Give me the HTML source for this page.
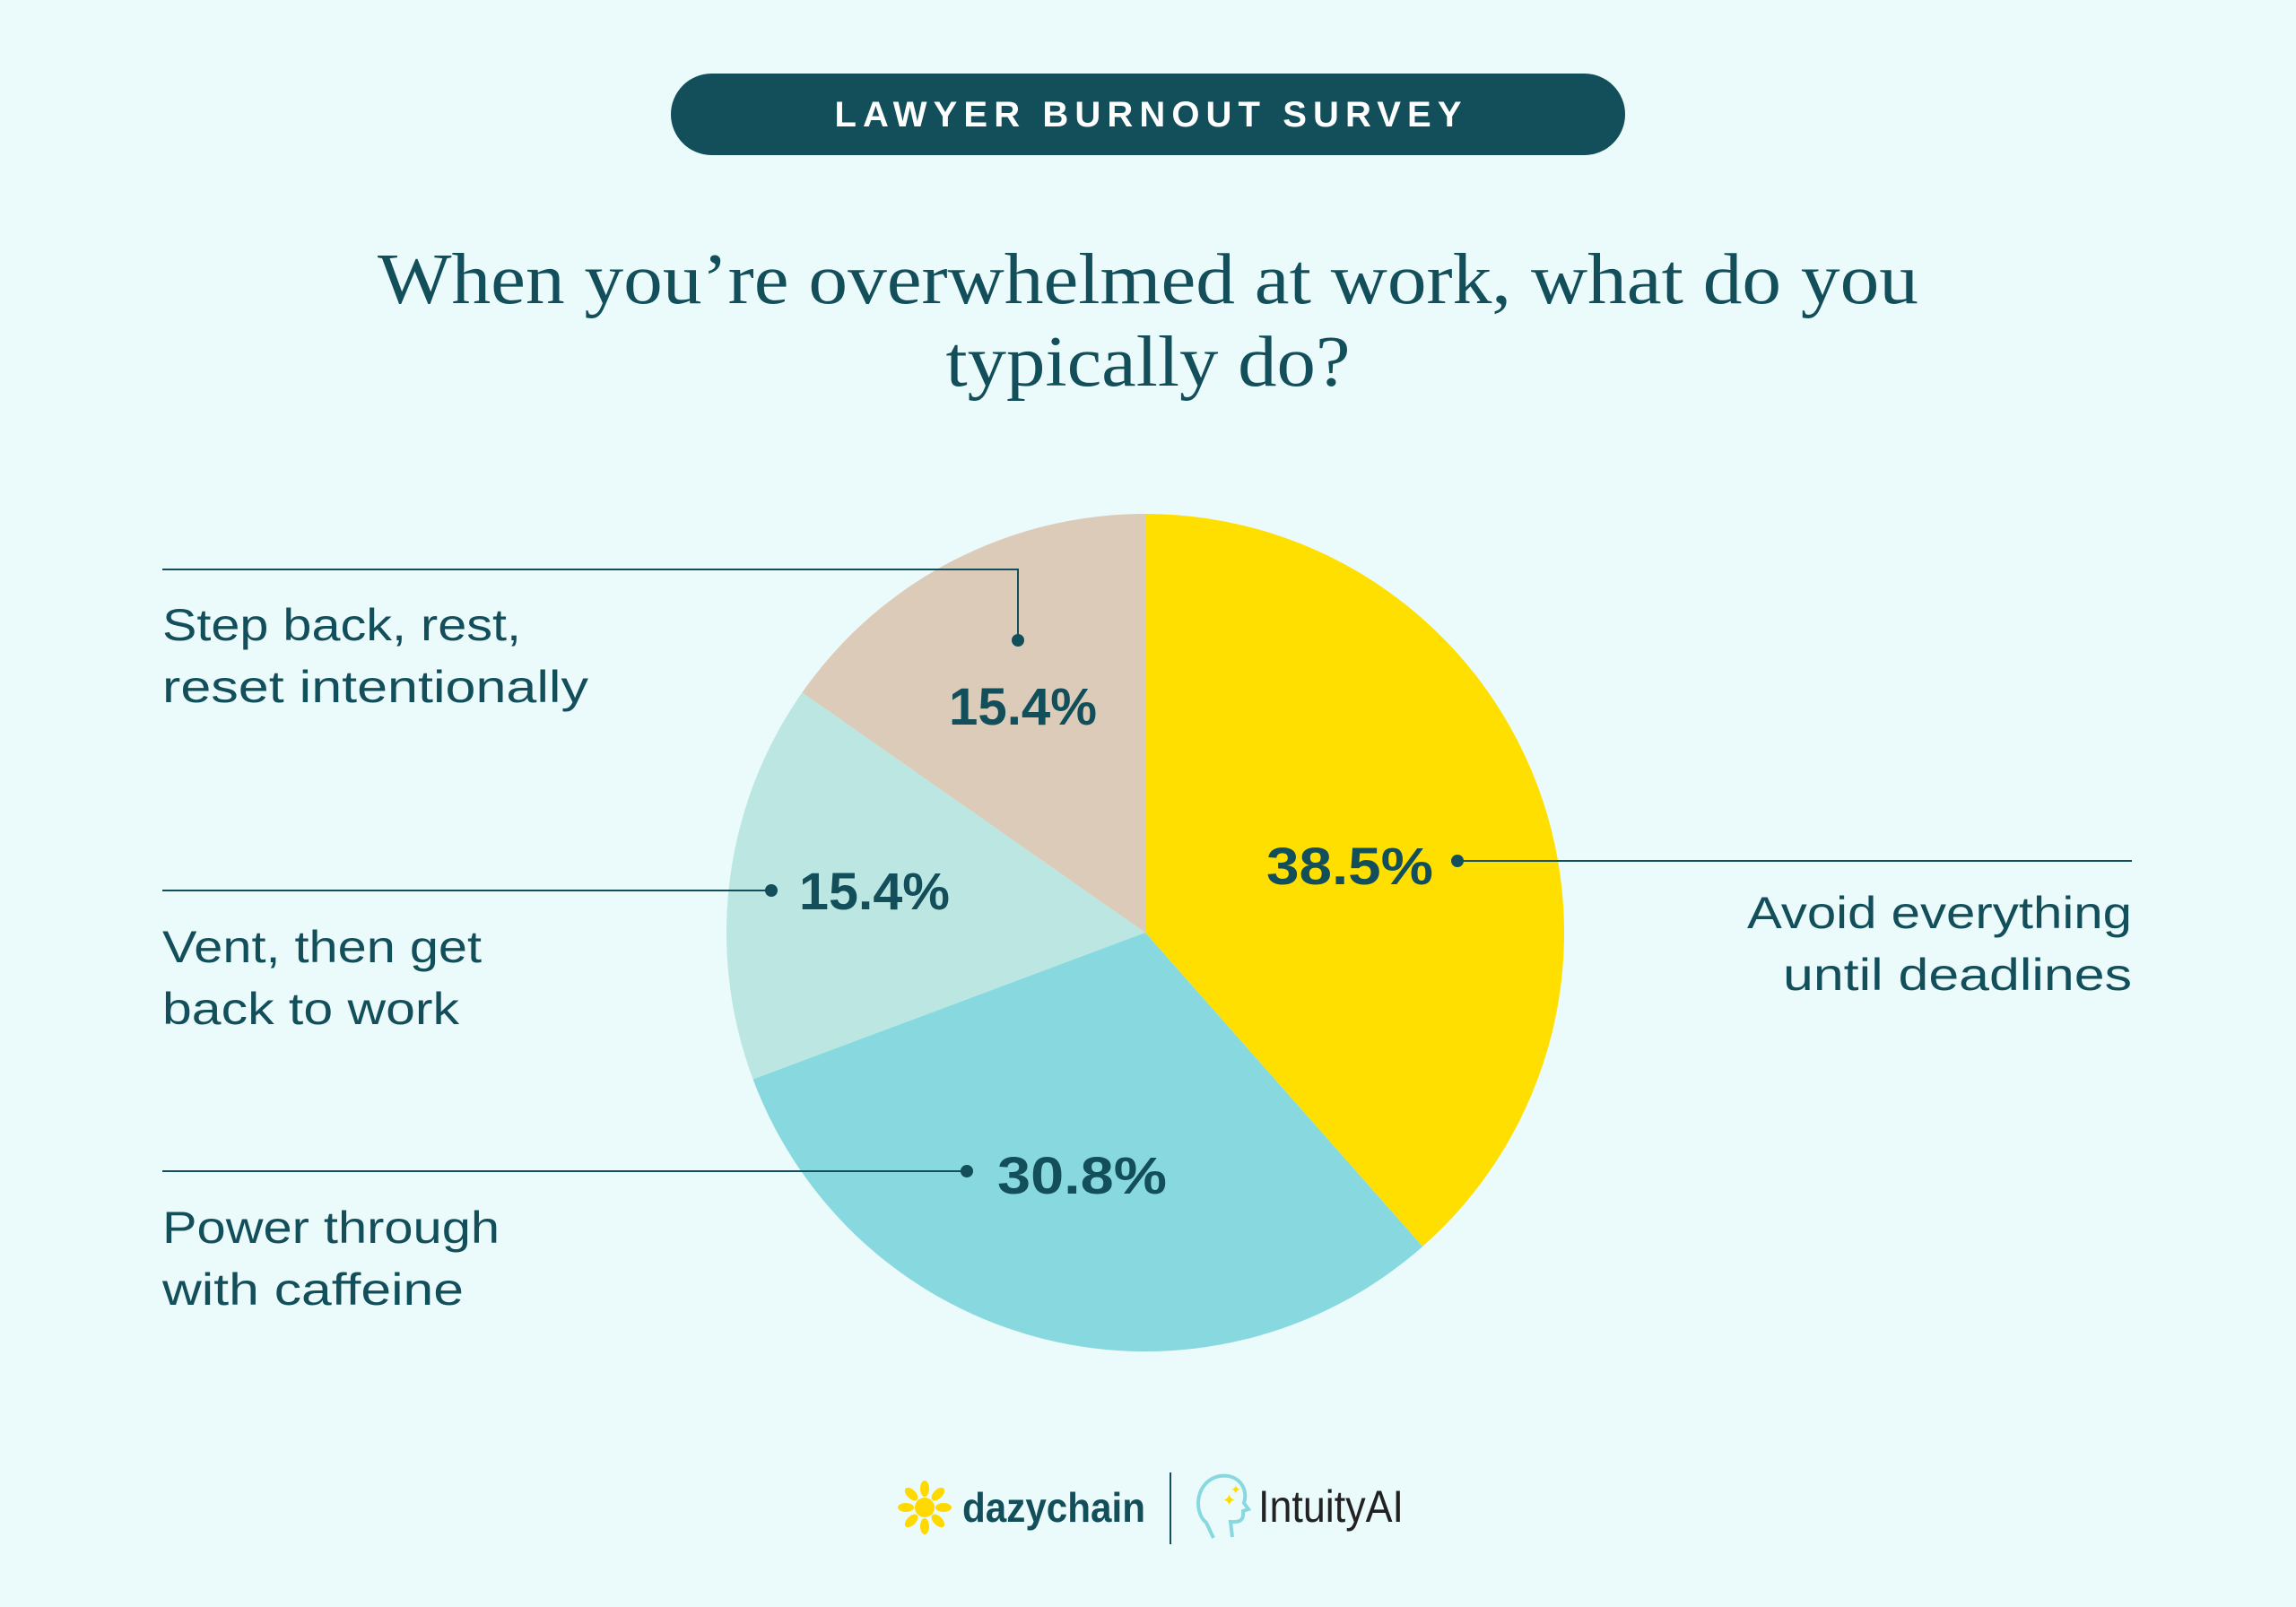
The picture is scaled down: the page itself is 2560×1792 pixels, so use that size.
<!DOCTYPE html>
<html><head><meta charset="utf-8"><style>
html,body{margin:0;padding:0;background:#ebfafb;}
svg{display:block;}
</style></head><body>
<svg width="2560" height="1792" viewBox="0 0 2560 1792" xmlns="http://www.w3.org/2000/svg">
<rect width="2560" height="1792" fill="#ebfafb"/>
<rect x="748" y="82" width="1064" height="91" rx="45.5" fill="#134f5a"/>
<text x="1280" y="141" text-anchor="middle" font-family="Liberation Sans, sans-serif" font-size="40" font-weight="bold" fill="#fff" textLength="699" lengthAdjust="spacing">LAWYER BURNOUT SURVEY</text>
<g font-family="Liberation Serif, serif" font-size="80" fill="#134f5a" text-anchor="middle">
<text x="1280" y="338" textLength="1718" lengthAdjust="spacingAndGlyphs">When you’re overwhelmed at work, what do you</text>
<text x="1280" y="430" textLength="451" lengthAdjust="spacingAndGlyphs">typically do?</text>
</g>
<g transform="translate(1277,1040)">
<path d="M0,0 L0,-467 A467,467 0 0 1 309.2,350.0 Z" fill="#ffdf00"/>
<path d="M0,0 L-437.4,163.6 A467,467 0 0 1 -382.6,-267.8 Z" fill="#bce6e1"/>
<path d="M0,0 L-382.6,-267.8 A467,467 0 0 1 0,-467 Z" fill="#dccbb8"/>
</g>
<path d="M1277,1040 L1586.2,1390 A467,467 0 0 1 839.6,1203.6 Z" fill="#87d9df"/>
<g stroke="#134f5a" stroke-width="2" fill="none">
<polyline points="181,635 1135,635 1135,714"/>
<line x1="181" y1="993" x2="860" y2="993"/>
<line x1="181" y1="1306" x2="1078" y2="1306"/>
<line x1="1625" y1="960" x2="2377" y2="960"/>
</g>
<g fill="#134f5a">
<circle cx="1135" cy="714" r="7"/>
<circle cx="860" cy="993" r="7"/>
<circle cx="1078" cy="1306" r="7"/>
<circle cx="1625" cy="960" r="7"/>
</g>
<g font-family="Liberation Sans, sans-serif" font-size="58" font-weight="bold" fill="#134f5a" lengthAdjust="spacingAndGlyphs">
<text x="1058" y="808" textLength="165" lengthAdjust="spacingAndGlyphs">15.4%</text>
<text x="891" y="1014" textLength="168" lengthAdjust="spacingAndGlyphs">15.4%</text>
<text x="1412" y="986" textLength="186" lengthAdjust="spacingAndGlyphs">38.5%</text>
<text x="1112" y="1331" textLength="189" lengthAdjust="spacingAndGlyphs">30.8%</text>
</g>
<g font-family="Liberation Sans, sans-serif" font-size="50" fill="#134f5a">
<text x="181" y="714" textLength="400" lengthAdjust="spacingAndGlyphs">Step back, rest,</text>
<text x="181" y="783" textLength="475" lengthAdjust="spacingAndGlyphs">reset intentionally</text>
<text x="181" y="1073" textLength="356" lengthAdjust="spacingAndGlyphs">Vent, then get</text>
<text x="181" y="1142" textLength="331" lengthAdjust="spacingAndGlyphs">back to work</text>
<text x="181" y="1386" textLength="376" lengthAdjust="spacingAndGlyphs">Power through</text>
<text x="181" y="1455" textLength="336" lengthAdjust="spacingAndGlyphs">with caffeine</text>
<text x="1948" y="1035" textLength="429" lengthAdjust="spacingAndGlyphs">Avoid everything</text>
<text x="1988" y="1104" textLength="389" lengthAdjust="spacingAndGlyphs">until deadlines</text>
</g>
<g transform="translate(0,-14)">
<g transform="translate(1031,1695)" fill="#ffd900">
<circle r="11"/>
<g id="p"><ellipse cx="0" cy="-21" rx="5" ry="9"/></g>
<use href="#p" transform="rotate(45)"/><use href="#p" transform="rotate(90)"/><use href="#p" transform="rotate(135)"/>
<use href="#p" transform="rotate(180)"/><use href="#p" transform="rotate(225)"/><use href="#p" transform="rotate(270)"/><use href="#p" transform="rotate(315)"/>
</g>
<text x="1073" y="1711" font-family="Liberation Sans, sans-serif" font-size="46" font-weight="bold" fill="#134f5a" textLength="204" lengthAdjust="spacingAndGlyphs">dazychain</text>
<line x1="1305" y1="1656" x2="1305" y2="1736" stroke="#134f5a" stroke-width="2"/>
<path d="M1353,1729 L1345,1712 C1330,1700 1333,1665 1360,1660 C1382,1657 1392,1675 1387,1690 L1392,1697 L1386,1699 C1387,1708 1384,1712 1372,1711 L1374,1728" fill="none" stroke="#87d9df" stroke-width="4"/>
<text x="1363" y="1693" font-size="18" fill="#ffd900" font-family="DejaVu Sans, sans-serif">✦</text>
<text x="1372" y="1680" font-size="14" fill="#ffd900" font-family="DejaVu Sans, sans-serif">✦</text>
<text x="1403" y="1711" font-family="Liberation Sans, sans-serif" font-size="50" fill="#222" textLength="162" lengthAdjust="spacingAndGlyphs">IntuityAI</text>
</g>
</svg>
</body></html>
